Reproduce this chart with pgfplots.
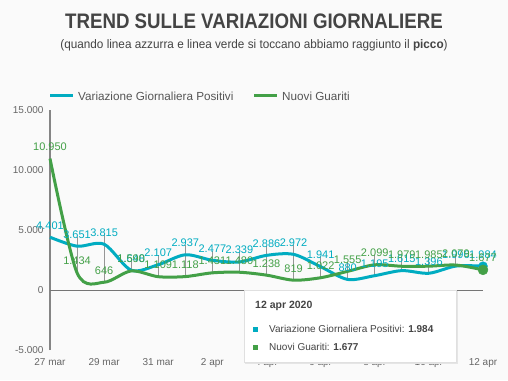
\documentclass[border=0pt]{standalone}
\usepackage{fontspec}
\setmainfont{Liberation Sans}
\usepackage{pgfplots}
\pgfplotsset{compat=1.18}
\definecolor{cblue}{RGB}{0,172,193}
\definecolor{cgreen}{RGB}{67,160,71}
\definecolor{bgc}{RGB}{250,250,250}
\definecolor{titc}{RGB}{68,68,68}
\definecolor{tickc}{RGB}{102,102,102}
\definecolor{legc}{RGB}{85,85,85}
\definecolor{dropc}{RGB}{150,150,150}
\begin{document}
\begin{tikzpicture}
\begin{scope}[x=1pt,y=1pt,shift={(-50pt,-30pt)}]
\fill[bgc] (0,0) rectangle (508,380);
\node[font=\bfseries\fontsize{21}{24}\selectfont, text=titc] at (254,359) {\scalebox{0.89}[1]{TREND SULLE VARIAZIONI GIORNALIERE}};
\node[font=\fontsize{12.3}{15}\selectfont, text=titc] at (254,335) {\scalebox{0.955}[1]{(quando linea azzurra e linea verde si toccano abbiamo raggiunto il \textbf{picco})}};
\draw[cblue, line width=3pt] (50,284) -- (73,284);
\node[anchor=west, inner sep=0pt, font=\fontsize{11.7}{14}\selectfont, text=legc] at (78,284) {Variazione Giornaliera Positivi};
\draw[cgreen, line width=3pt] (254,284) -- (277,284);
\node[anchor=west, inner sep=0pt, font=\fontsize{11.7}{14}\selectfont, text=legc] at (282,284) {Nuovi Guariti};
\end{scope}
\begin{axis}[
  scale only axis,
  width=433pt, height=240pt,
  xmin=0, xmax=16, ymin=-5000, ymax=15000,
  clip=false,
  axis y line=left, axis x line=bottom,
  x axis line style={draw=none},
  y axis line style={draw=tickc!80, line width=1pt, -},
  major tick length=0pt,
  xtick={0,2,...,16},
  xticklabels={27 mar,29 mar,31 mar,2 apr,4 apr,6 apr,8 apr,10 apr,12 apr},
  ytick={-5000,0,5000,10000,15000},
  yticklabels={-5.000,0,5.000,10.000,15.000},
  scaled y ticks=false, scaled x ticks=false,
  ticklabel style={font=\fontsize{10}{12}\selectfont, text=tickc},
  yticklabel style={xshift=-3pt},
  xticklabel style={yshift=-5pt},
  extra y ticks={0}, extra y tick labels={},
  extra y tick style={grid=major, major grid style={draw=tickc!90, line width=1pt}},
  /pgf/number format/assume math mode=true,
  /pgf/number format/1000 sep={.},
]
% drop lines (from lower value up to just under the upper label)
\addplot[draw=dropc, line width=1pt, forget plot] coordinates {(1,1434) (1,4451)};
\addplot[draw=dropc, line width=1pt, forget plot] coordinates {(2,646) (2,4615)};
\addplot[draw=dropc, line width=1pt, forget plot] coordinates {(3,1590) (3,2448)};
\addplot[draw=dropc, line width=1pt, forget plot] coordinates {(4,1109) (4,2907)};
\addplot[draw=dropc, line width=1pt, forget plot] coordinates {(5,1118) (5,3737)};
\addplot[draw=dropc, line width=1pt, forget plot] coordinates {(6,1431) (6,3277)};
\addplot[draw=dropc, line width=1pt, forget plot] coordinates {(7,1480) (7,3139)};
\addplot[draw=dropc, line width=1pt, forget plot] coordinates {(8,1238) (8,3686)};
\addplot[draw=dropc, line width=1pt, forget plot] coordinates {(9,819) (9,3772)};
\addplot[draw=dropc, line width=1pt, forget plot] coordinates {(10,1022) (10,2741)};
\addplot[draw=dropc, line width=1pt, forget plot] coordinates {(11,880) (11,2355)};
\addplot[draw=dropc, line width=1pt, forget plot] coordinates {(12,1195) (12,2899)};
\addplot[draw=dropc, line width=1pt, forget plot] coordinates {(13,1615) (13,2779)};
\addplot[draw=dropc, line width=1pt, forget plot] coordinates {(14,1396) (14,2785)};
\addplot[draw=dropc, line width=1pt, forget plot] coordinates {(15,1996) (15,2879)};
% Variazione Giornaliera Positivi
\addplot[cblue, line width=3pt, smooth, mark=none,
  nodes near coords, point meta=y,
  every node near coord/.append style={font=\fontsize{11}{13}\selectfont, text=cblue, anchor=south, yshift=3pt}]
  coordinates {
  (0,4401) (1,3651) (2,3815) (3,1648) (4,2107) (5,2937) (6,2477) (7,2339)
  (8,2886) (9,2972) (10,1941) (11,880) (12,1195) (13,1615) (14,1396) (15,1996) (16,1984)
  };
% Nuovi Guariti
\addplot[cgreen, line width=3pt, smooth, mark=none,
  nodes near coords, point meta=y,
  every node near coord/.append style={font=\fontsize{11}{13}\selectfont, text=cgreen, anchor=south, yshift=3pt}]
  coordinates {
  (0,10950) (1,1434) (2,646) (3,1590) (4,1109) (5,1118) (6,1431) (7,1480)
  (8,1238) (9,819) (10,1022) (11,1555) (12,2099) (13,1979) (14,1985) (15,2079) (16,1677)
  };
\addplot[only marks, mark=*, mark size=4.5pt, cblue, forget plot] coordinates {(16,1984)};
\addplot[only marks, mark=*, mark size=5pt, cgreen, forget plot] coordinates {(16,1677)};
\end{axis}
\begin{scope}[x=1pt,y=1pt,shift={(-50pt,-30pt)}]
\fill[black!10] (245,16.5) rectangle (457.5,89);
\filldraw[fill=white, draw=black!12, line width=0.6pt] (244,18) rectangle (456,90);
\node[anchor=west, inner sep=0pt, font=\bfseries\fontsize{10.5}{12}\selectfont, text=titc] at (255,74) {12 apr 2020};
\fill[cblue] (253,48.5) rectangle (258,53.5);
\node[anchor=west, inner sep=0pt, font=\fontsize{10}{12}\selectfont, text=titc] at (269,51) {Variazione Giornaliera Positivi: \textbf{1.984}};
\fill[cgreen] (253,30.5) rectangle (258,35.5);
\node[anchor=west, inner sep=0pt, font=\fontsize{10}{12}\selectfont, text=titc] at (269,33) {Nuovi Guariti: \textbf{1.677}};
\end{scope}
\end{tikzpicture}
\end{document}
